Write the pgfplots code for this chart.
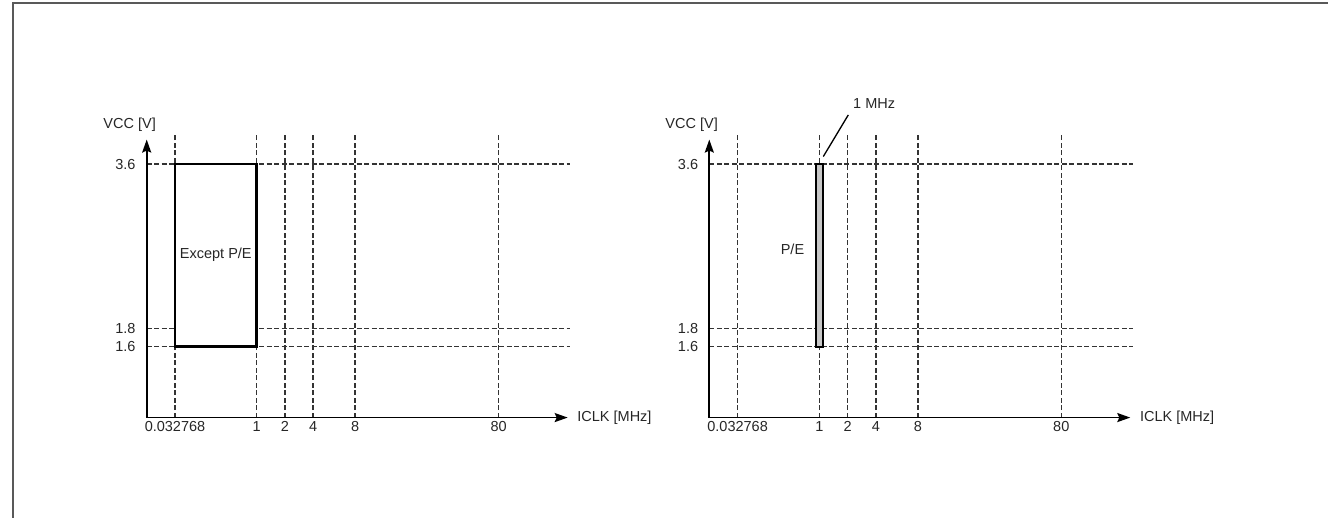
\documentclass[border=0pt]{standalone}
\usepackage{pgfplots}
\pgfplotsset{compat=1.18}
\usepackage{fontspec}
\setmainfont{Liberation Sans}
\usetikzlibrary{arrows.meta}
\tikzset{bigtip/.style={-{Stealth[length=13pt,width=9pt,inset=2pt]}}}
\pgfplotsset{
  vccchart/.style={
    scale only axis, width=421pt, height=278pt,
    xmin=0, xmax=421, ymin=0.823, ymax=3.868,
    axis lines=left, clip=false, axis on top,
    axis line style={line width=1.8pt, black},
    every outer x axis line/.append style={bigtip},
    every outer y axis line/.append style={bigtip},
    every inner x axis line/.append style={bigtip},
    every inner y axis line/.append style={bigtip},
    xtick={28.3,110,138.3,166.5,208.5,352},
    xticklabels={0.032768,1,2,4,8,80},
    ytick={1.6,1.8,3.6}, yticklabels={1.6,1.8,3.6},
    major tick length=0pt,
    tick style={draw=none},
    ticklabel style={font=\fontsize{14.5}{17}\selectfont, text=black!85},
    xticklabel style={inner sep=0pt, anchor=north, yshift=-4pt},
    yticklabel style={inner sep=0pt, anchor=east, xshift=-11pt},
    anchor=south west,
  },
  griddash/.style={black!80, line width=1.5pt, dash pattern=on 5pt off 2.5pt, forget plot},
}
\begin{document}
\begin{tikzpicture}[x=1pt,y=1pt, font=\fontsize{14.5}{17}\selectfont]
\useasboundingbox (0,0) rectangle (1328,518);
\draw[line width=2pt, color=black!65] (13,-5) -- (13,515) -- (1335,515);

% ---------- left chart ----------
\begin{axis}[vccchart, at={(146.7,110)}]
  \addplot[griddash] coordinates {(0,3.6) (423.5,3.6)};
  \addplot[griddash] coordinates {(0,1.8) (423.5,1.8)};
  \addplot[griddash] coordinates {(0,1.6) (423.5,1.6)};
  \addplot[griddash] coordinates {(28.3,0.823) (28.3,3.923)};
  \addplot[griddash] coordinates {(110,0.823) (110,3.923)};
  \addplot[griddash] coordinates {(138.3,0.823) (138.3,3.923)};
  \addplot[griddash] coordinates {(166.5,0.823) (166.5,3.923)};
  \addplot[griddash] coordinates {(208.5,0.823) (208.5,3.923)};
  \addplot[griddash] coordinates {(352,0.823) (352,3.923)};
  % operating range (except P/E): 0.032768 - 1 MHz, 1.6 - 3.6 V
  \addplot[black, line width=2.5pt, fill=white] coordinates {(28.3,1.6) (110,1.6) (110,3.6) (28.3,3.6)} -- cycle;
  \node[text=black!85, inner sep=0pt] at (axis cs:69.1,2.61) {Except P/E};
  \node[anchor=east, inner sep=0pt, text=black!85, xshift=9.3pt, yshift=15pt] at (rel axis cs:0,1) {VCC [V]};
  \node[anchor=west, inner sep=0pt, text=black!85, xshift=9.5pt] at (rel axis cs:1,0) {ICLK [MHz]};
\end{axis}

% ---------- right chart ----------
\begin{axis}[vccchart, at={(709.3,110)}]
  \addplot[griddash] coordinates {(0,3.6) (423.5,3.6)};
  \addplot[griddash] coordinates {(0,1.8) (423.5,1.8)};
  \addplot[griddash] coordinates {(0,1.6) (423.5,1.6)};
  \addplot[griddash] coordinates {(28.3,0.823) (28.3,3.923)};
  \addplot[griddash] coordinates {(110,0.823) (110,3.923)};
  \addplot[griddash] coordinates {(138.3,0.823) (138.3,3.923)};
  \addplot[griddash] coordinates {(166.5,0.823) (166.5,3.923)};
  \addplot[griddash] coordinates {(208.5,0.823) (208.5,3.923)};
  \addplot[griddash] coordinates {(352,0.823) (352,3.923)};
  % P/E range: 1 MHz, 1.6 - 3.6 V
  \addplot[black, line width=2pt, fill=black!22] coordinates {(106.5,1.6) (113.5,1.6) (113.5,3.6) (106.5,3.6)} -- cycle;
  \addplot[black, line width=1.3pt] coordinates {(114,3.682) (139,4.138)};
  \node[anchor=west, inner sep=0pt, text=black!85] at (axis cs:143.7,4.265) {1 MHz};
  \node[text=black!85, inner sep=0pt] at (axis cs:83.2,2.665) {P/E};
  \node[anchor=east, inner sep=0pt, text=black!85, xshift=8.7pt, yshift=15pt] at (rel axis cs:0,1) {VCC [V]};
  \node[anchor=west, inner sep=0pt, text=black!85, xshift=9.5pt] at (rel axis cs:1,0) {ICLK [MHz]};
\end{axis}
\end{tikzpicture}
\end{document}
